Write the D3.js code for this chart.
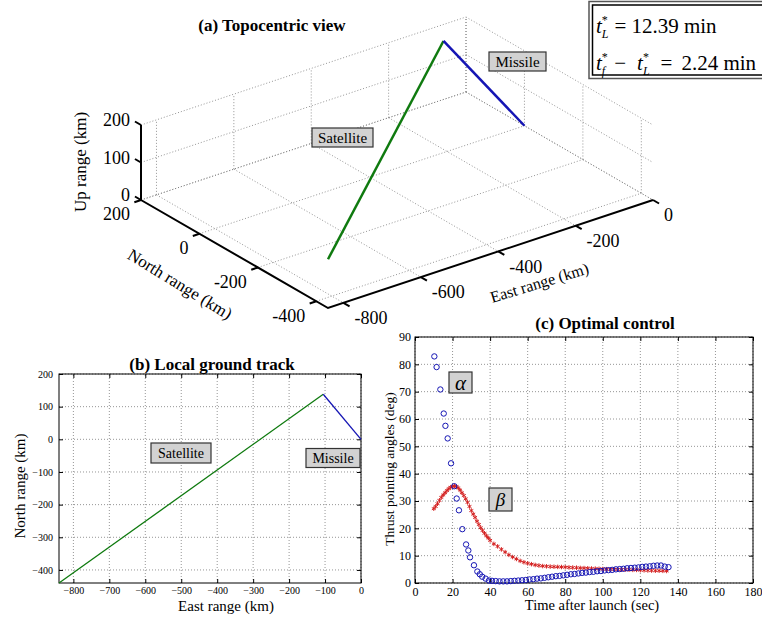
<!DOCTYPE html>
<html>
<head>
<meta charset="utf-8">
<script src="https://d3js.org/d3.v7.min.js"></script>
<style>
  body { margin: 0; background: #fff; }
  svg text { font-family: "Liberation Serif", "Times New Roman", serif; fill: #000; }
  .grid line, .grid path { stroke: #7a7a7a; stroke-width: 0.8; stroke-dasharray: 1,2; fill: none; }
  .lbl rect { fill: #d2d2d2; stroke: #333; stroke-width: 1.2; }
</style>
</head>
<body>
<svg id="fig" width="762" height="618"></svg>
<script>
// ---------------- data ----------------
// trajectories (km): east, north, up
const satEast = [-840, -105];
const satNorth = [-440, 138];
const satUp = [130, 200];
const misEast = [-105, 0];
const misNorth = [138, 0];
const misUp = [200, 0];

const eastTicks3d = [-800, -600, -400, -200, 0];
const northTicks3d = [200, 0, -200, -400];
const upTicks3d = [0, 100, 200];

const eastTicks2d = [-800, -700, -600, -500, -400, -300, -200, -100, 0];
const northTicks2d = [200, 100, 0, -100, -200, -300, -400];

// (c) thrust pointing angles
const alphaTime = [10.3, 11.5, 13.5, 15.3, 16.2, 17.4, 19.2, 20.9, 22.2, 23.4, 25.2, 27.2, 28.4, 29.3, 31.4, 33.2, 34.5, 35.8, 37.6, 39.4,
  41, 43, 45, 47, 49, 51, 53, 55, 57, 59, 61, 63, 65, 67, 69, 71, 73, 75, 77, 79, 81, 83, 85, 87, 89, 91, 93, 95,
  97, 99, 101, 103, 105, 107, 109, 111, 113, 115, 117, 119, 121, 123, 125, 127, 129, 131, 133, 135];
const alphaDeg = [82.9, 79, 70.8, 62, 57.5, 52.9, 43.8, 35.4, 30.9, 26.6, 19.7, 14.1, 11.9, 9.4, 6.5, 4.2, 3.2, 2.3, 1.6, 0.9,
  0.8, 0.7, 0.6, 0.6, 0.6, 0.7, 0.8, 0.9, 1.0, 1.1, 1.3, 1.4, 1.6, 1.7, 1.9, 2.1, 2.3, 2.5, 2.6, 2.8, 3.0, 3.2, 3.3, 3.5, 3.7, 3.8, 4.0, 4.1,
  4.3, 4.4, 4.6, 4.7, 4.8, 5.0, 5.1, 5.2, 5.4, 5.5, 5.6, 5.7, 5.9, 6.0, 6.1, 6.3, 6.4, 6.4, 6.0, 5.8];
const betaTime = [10, 11, 12, 13, 14, 15, 16, 17, 18, 19, 20, 21, 22, 23, 24, 25, 26, 27, 28, 29, 30, 31, 32, 33, 34, 35, 36, 37, 38, 39, 40,
  42, 44, 46, 48, 50, 52, 54, 56, 58, 60, 62, 64, 66, 68, 70, 72, 74, 76, 78, 80, 82, 84, 86, 88, 90, 92, 94, 96, 98, 100,
  102, 104, 106, 108, 110, 112, 114, 116, 118, 120, 122, 124, 126, 128, 130, 132, 134];
const betaDeg = [27.2, 28, 29, 30.2, 31.3, 32.2, 33, 33.8, 34.5, 35, 35.3, 35.5, 35.3, 34.8, 34, 33, 32, 30.8, 29.5, 28, 26.5, 25.2, 24, 22.6, 21.4, 20.2, 19.2, 18.2, 17.3, 16.5, 15.6,
  14.3, 13.4, 12.3, 11.3, 10.3, 9.5, 8.8, 8.1, 7.6, 7.2, 6.9, 6.6, 6.4, 6.2, 6.1, 6.0, 5.95, 5.9, 5.85, 5.8, 5.7, 5.65, 5.6, 5.5, 5.45, 5.4, 5.3, 5.25, 5.2, 5.1,
  5.05, 5.0, 5.0, 4.95, 4.9, 4.9, 4.85, 4.8, 4.8, 4.7, 4.65, 4.6, 4.55, 4.5, 4.5, 4.45, 4.4];
const timeTicks = [0, 20, 40, 60, 80, 100, 120, 140, 160, 180];
const angleTicks = [0, 10, 20, 30, 40, 50, 60, 70, 80, 90];

const green = "#0f7a0f", blue = "#1515b4", red = "#d42020";
const svg = d3.select("#fig");

function labelBox(g, cx, cy, w, h, txt, fs, italic) {
  const b = g.append("g").attr("class", "lbl");
  b.append("rect").attr("x", cx - w / 2).attr("y", cy - h / 2).attr("width", w).attr("height", h);
  b.append("text").attr("x", cx).attr("y", cy).attr("dy", "0.35em").attr("text-anchor", "middle")
    .attr("font-size", fs).attr("font-style", italic ? "italic" : null).text(txt);
}

// ---------------- (a) topocentric view ----------------
const eS = d3.scaleLinear().domain([-840, 0]).range([0, 1]);
const nS = d3.scaleLinear().domain([200, -440]).range([0, 1]);
const uS = d3.scaleLinear().domain([0, 200]).range([0, 1]);
const O = [141, 200], vE = [325, -108], vN = [187, 108], vU = [0, -75];
const proj = (e, n, u) => {
  const a = eS(e), b = nS(n), c = uS(u);
  return [O[0] + a * vE[0] + b * vN[0] + c * vU[0], O[1] + a * vE[1] + b * vN[1] + c * vU[1]];
};
const line = d3.line();
const gA = svg.append("g");
const gridA = gA.append("g").attr("class", "grid");
const seg = (p, q) => gridA.append("path").attr("d", line([proj(...p), proj(...q)]));
eastTicks3d.forEach(e => { seg([e, 200, 0], [e, -440, 0]); seg([e, 200, 0], [e, 200, 200]); });
northTicks3d.forEach(n => { seg([-840, n, 0], [0, n, 0]); seg([0, n, 0], [0, n, 200]); });
upTicks3d.forEach(u => { seg([-840, 200, u], [0, 200, u]); seg([0, 200, u], [0, -440, u]); });

const axA = gA.append("g").attr("stroke", "#000").attr("stroke-width", 2).attr("fill", "none");
axA.append("path").attr("d", line([proj(-840, 200, 200), proj(-840, 200, 0), proj(-840, -440, 0), proj(0, -440, 0)]));
const tick = (p, dir) => axA.append("path").attr("d", line([p, [p[0] + dir[0] * 7, p[1] + dir[1] * 7]]));
const ftA = 18;
upTicks3d.forEach(u => {
  const p = proj(-840, 200, u);
  tick(p, [-0.866, -0.5]);
  gA.append("text").attr("x", p[0] - 11).attr("y", p[1] - 5).attr("dy", "0.35em")
    .attr("text-anchor", "end").attr("font-size", ftA).text(u);
});
northTicks3d.forEach(n => {
  const p = proj(-840, n, 0);
  tick(p, [-0.949, 0.315]);
  gA.append("text").attr("x", p[0] - 11).attr("y", p[1] + 14).attr("dy", "0.35em")
    .attr("text-anchor", "end").attr("font-size", ftA).text(n);
});
eastTicks3d.forEach(e => {
  const p = proj(e, -440, 0);
  tick(p, [0.866, 0.5]);
  gA.append("text").attr("x", p[0] + 11).attr("y", p[1] + 15).attr("dy", "0.35em")
    .attr("text-anchor", "start").attr("font-size", ftA).text(e);
});

gA.append("path").attr("fill", "none").attr("stroke", green).attr("stroke-width", 2.5)
  .attr("d", line(satEast.map((e, i) => proj(e, satNorth[i], satUp[i]))));
gA.append("path").attr("fill", "none").attr("stroke", blue).attr("stroke-width", 2.5)
  .attr("d", line(misEast.map((e, i) => proj(e, misNorth[i], misUp[i]))));

gA.append("text").attr("transform", "translate(86,162) rotate(-90)").attr("text-anchor", "middle")
  .attr("font-size", 17).text("Up range (km)");
gA.append("text").attr("transform", "translate(177,289) rotate(31.5)").attr("text-anchor", "middle")
  .attr("font-size", 17).text("North range (km)");
gA.append("text").attr("transform", "translate(541,288) rotate(-17)").attr("text-anchor", "middle")
  .attr("font-size", 16).text("East range (km)");
gA.append("text").attr("x", 272).attr("y", 31).attr("text-anchor", "middle")
  .attr("font-size", 17).attr("font-weight", "bold").text("(a) Topocentric view");
labelBox(gA, 342.5, 137.5, 61, 19, "Satellite", 15);
labelBox(gA, 517.5, 61.5, 57, 19, "Missile", 15);

// result box
const gT = svg.append("g");
gT.append("rect").attr("x", 589).attr("y", 1.5).attr("width", 180).attr("height", 77)
  .attr("fill", "#fff").attr("stroke", "#555").attr("stroke-width", 1.5);
gT.append("rect").attr("x", 592.5).attr("y", 5).attr("width", 175).attr("height", 70)
  .attr("fill", "none").attr("stroke", "#000").attr("stroke-width", 1.5);
const t1 = gT.append("text").attr("x", 596).attr("y", 33).attr("font-size", 21);
t1.append("tspan").attr("font-style", "italic").text("t");
t1.append("tspan").attr("font-size", 12).attr("dy", -9).attr("dx", 0).text("*");
t1.append("tspan").attr("font-size", 12).attr("font-style", "italic").attr("dx", -6).attr("dy", 14).text("L");
t1.append("tspan").attr("dy", -5).attr("dx", 6).text("=");
t1.append("tspan").attr("dx", 5).text("12.39 min");
const t2 = gT.append("text").attr("x", 596).attr("y", 70).attr("font-size", 21);
t2.append("tspan").attr("font-style", "italic").text("t");
t2.append("tspan").attr("font-size", 12).attr("dy", -9).text("*");
t2.append("tspan").attr("font-size", 12).attr("font-style", "italic").attr("dx", -6).attr("dy", 14).text("f");
t2.append("tspan").attr("dy", -5).attr("dx", 9).text("\u2212");
t2.append("tspan").attr("font-style", "italic").attr("dx", 11).text("t");
t2.append("tspan").attr("font-size", 12).attr("dy", -9).text("*");
t2.append("tspan").attr("font-size", 12).attr("font-style", "italic").attr("dx", -6).attr("dy", 14).text("L");
t2.append("tspan").attr("dy", -5).attr("dx", 11).text("=");
t2.append("tspan").attr("dx", 9).text("2.24 min");

// ---------------- 2D panels ----------------
function panel(x, y, xTicks, yTicks, fs, padX, padY) {
  const g = svg.append("g");
  const [x0, x1] = x.range(), [y0, y1] = y.range();
  const grid = g.append("g").attr("class", "grid");
  grid.selectAll("line.v").data(xTicks).join("line").attr("class", "v")
    .attr("x1", d => x(d)).attr("x2", d => x(d)).attr("y1", y0).attr("y2", y1);
  grid.selectAll("line.h").data(yTicks).join("line").attr("class", "h")
    .attr("y1", d => y(d)).attr("y2", d => y(d)).attr("x1", x0).attr("x2", x1);
  const style = s => s.call(a => a.select(".domain").remove())
    .attr("font-family", "Liberation Serif, serif").attr("font-size", fs)
    .call(a => a.selectAll("line").attr("stroke", "#000"));
  g.append("g").attr("transform", `translate(0,${y0})`)
    .call(d3.axisBottom(x).tickValues(xTicks).tickSizeInner(-4).tickSizeOuter(0).tickPadding(padX)).call(style);
  g.append("g").attr("transform", `translate(0,${y1})`)
    .call(d3.axisTop(x).tickValues(xTicks).tickSizeInner(-4).tickSizeOuter(0).tickFormat("")).call(style);
  g.append("g").attr("transform", `translate(${x0},0)`)
    .call(d3.axisLeft(y).tickValues(yTicks).tickSizeInner(-4).tickSizeOuter(0).tickPadding(padY)).call(style);
  g.append("g").attr("transform", `translate(${x1},0)`)
    .call(d3.axisRight(y).tickValues(yTicks).tickSizeInner(-4).tickSizeOuter(0).tickFormat("")).call(style);
  g.append("rect").attr("x", x0).attr("y", y1).attr("width", x1 - x0).attr("height", y0 - y1)
    .attr("fill", "none").attr("stroke", "#000").attr("stroke-width", 1);
  return g;
}

// (b) local ground track
const xB = d3.scaleLinear().domain([-840, 0]).range([59, 361]);
const yB = d3.scaleLinear().domain([-440, 200]).range([583, 374]);
const gB = panel(xB, yB, eastTicks2d, northTicks2d, 10, 4, 6);
gB.append("path").attr("fill", "none").attr("stroke", green).attr("stroke-width", 1.3)
  .attr("d", line(satEast.map((e, i) => [xB(e), yB(satNorth[i])])));
gB.append("path").attr("fill", "none").attr("stroke", blue).attr("stroke-width", 1.3)
  .attr("d", line(misEast.map((e, i) => [xB(e), yB(misNorth[i])])));
gB.append("text").attr("x", 212).attr("y", 370).attr("text-anchor", "middle")
  .attr("font-size", 17).attr("font-weight", "bold").text("(b) Local ground track");
gB.append("text").attr("x", 226).attr("y", 611).attr("text-anchor", "middle").attr("font-size", 15).text("East range (km)");
gB.append("text").attr("transform", "translate(25,486) rotate(-90)").attr("text-anchor", "middle")
  .attr("font-size", 15).text("North range (km)");
labelBox(gB, 181, 453, 60, 20, "Satellite", 14);
labelBox(gB, 333, 458, 54, 19, "Missile", 14);

// (c) optimal control
const xC = d3.scaleLinear().domain([0, 180]).range([415, 753]);
const yC = d3.scaleLinear().domain([0, 90]).range([583, 337]);
const gC = panel(xC, yC, timeTicks, angleTicks, 12, 4, 4);
const star = d3.symbol().type(d3.symbolAsterisk).size(14);
gC.append("g").selectAll("path").data(betaTime).join("path")
  .attr("transform", (d, i) => `translate(${xC(d)},${yC(betaDeg[i])})`)
  .attr("d", star).attr("fill", "none").attr("stroke", red).attr("stroke-width", 1);
gC.append("g").selectAll("circle").data(alphaTime).join("circle")
  .attr("cx", d => xC(d)).attr("cy", (d, i) => yC(alphaDeg[i])).attr("r", 2.7)
  .attr("fill", "none").attr("stroke", blue).attr("stroke-width", 1);
gC.append("text").attr("x", 605).attr("y", 329).attr("text-anchor", "middle")
  .attr("font-size", 17).attr("font-weight", "bold").text("(c) Optimal control");
gC.append("text").attr("x", 592).attr("y", 610).attr("text-anchor", "middle").attr("font-size", 14.5).text("Time after launch (sec)");
gC.append("text").attr("transform", "translate(394,469) rotate(-90)").attr("text-anchor", "middle")
  .attr("font-size", 13.5).text("Thrust pointing angles (deg)");
labelBox(gC, 460.5, 382.5, 23, 21, "\u03b1", 21, true);
labelBox(gC, 500.5, 499.5, 23, 23, "\u03b2", 19, true);
</script>
</body>
</html>
